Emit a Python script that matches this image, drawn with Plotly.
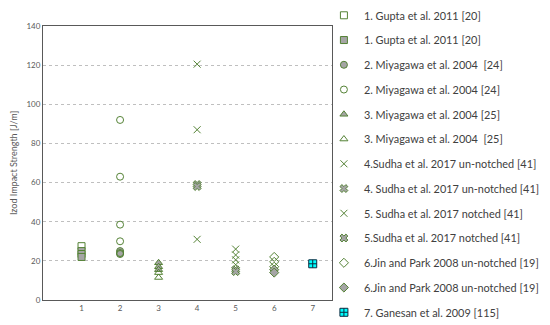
import plotly.graph_objects as go

# Data
names = [
    "1. Gupta et al. 2011 [20]",
    "1. Gupta et al. 2011 [20]",
    "2. Miyagawa et al. 2004  [24]",
    "2. Miyagawa et al. 2004 [24]",
    "3. Miyagawa et al. 2004 [25]",
    "3. Miyagawa et al. 2004  [25]",
    "4.Sudha et al. 2017 un-notched [41]",
    "4. Sudha et al. 2017 un-notched [41]",
    "5. Sudha et al. 2017 notched [41]",
    "5.Sudha et al. 2017 notched [41]",
    "6.Jin and Park 2008 un-notched [19]",
    "6.Jin and Park 2008 un-notched [19]",
    "7. Ganesan et al. 2009 [115]",
]
x_pos = [1, 1, 2, 2, 3, 3, 4, 4, 5, 5, 6, 6, 7]
y_vals = [
    [27.5],
    [25, 23.5, 22],
    [25, 23.5],
    [92, 63, 38.5, 30, 24],
    [19, 17, 15.5],
    [14, 11.5],
    [120.5, 87, 31],
    [59, 58],
    [26, 23, 20.5, 18],
    [15.5, 14.5],
    [22, 19.5, 17],
    [15.5, 14],
    [18.5],
]
symbols = ["square-open", "square", "circle", "circle-open", "triangle-up", "triangle-up-open",
           "x-thin-open", "x", "x-thin-open", "x", "diamond-open", "diamond", "square-cross"]

x_ticks = [1, 2, 3, 4, 5, 6, 7]
y_ticks = [0, 20, 40, 60, 80, 100, 120, 140]

GREEN = "#548235"
GRAY = "#a5a5a5"

fig = go.Figure()
for i, (nm, xp, ys, sym) in enumerate(zip(names, x_pos, y_vals, symbols)):
    if sym == "square-cross":
        marker = dict(symbol=sym, size=8, color="#00ffff", line=dict(color="#0b2b40", width=1))
    elif sym.endswith("-open"):
        marker = dict(symbol=sym, size=7, color=GREEN, line=dict(color=GREEN, width=1))
    else:
        marker = dict(symbol=sym, size=7, color=GRAY, line=dict(color=GREEN, width=1))
    fig.add_trace(go.Scatter(
        x=[xp] * len(ys), y=ys, mode="markers", name=nm, marker=marker,
        legendgroup=f"g{i}",
    ))

legend_cfg = dict(
    x=0.972, y=1.092, xanchor="left", yanchor="top",
    font=dict(size=10.9, color="#404040"),
    tracegroupgap=5.75,
    bgcolor="rgba(0,0,0,0)",
)

fig.update_layout(
    width=558, height=333,
    margin=dict(l=35, r=234, t=18, b=41, autoexpand=False),
    paper_bgcolor="white", plot_bgcolor="white",
    font=dict(family="Lato, Liberation Sans, sans-serif", color="#595959"),
    showlegend=True,
    legend=legend_cfg,
    xaxis=dict(
        range=[0, 7.5], tickvals=x_ticks, ticktext=[str(t) for t in x_ticks],
        showgrid=False, zeroline=False, showline=True, linecolor="#595959", linewidth=1,
        mirror=True, ticks="", tickfont=dict(size=8, color="#595959"),
    ),
    yaxis=dict(
        range=[0, 140], tickvals=y_ticks, ticktext=[str(t) for t in y_ticks],
        showgrid=True, gridcolor="#bfbfbf", griddash="dot", gridwidth=1,
        zeroline=False, showline=True, linecolor="#595959", linewidth=1, mirror=True,
        ticks="", tickfont=dict(size=8, color="#595959"),
        title=dict(text="Izod Impact Strength [J/m]", font=dict(size=9, color="#595959"), standoff=8),
    ),
)
try:
    fig.update_layout(legend_maxheight=400)
except Exception:
    pass

fig.write_html("out.html")
